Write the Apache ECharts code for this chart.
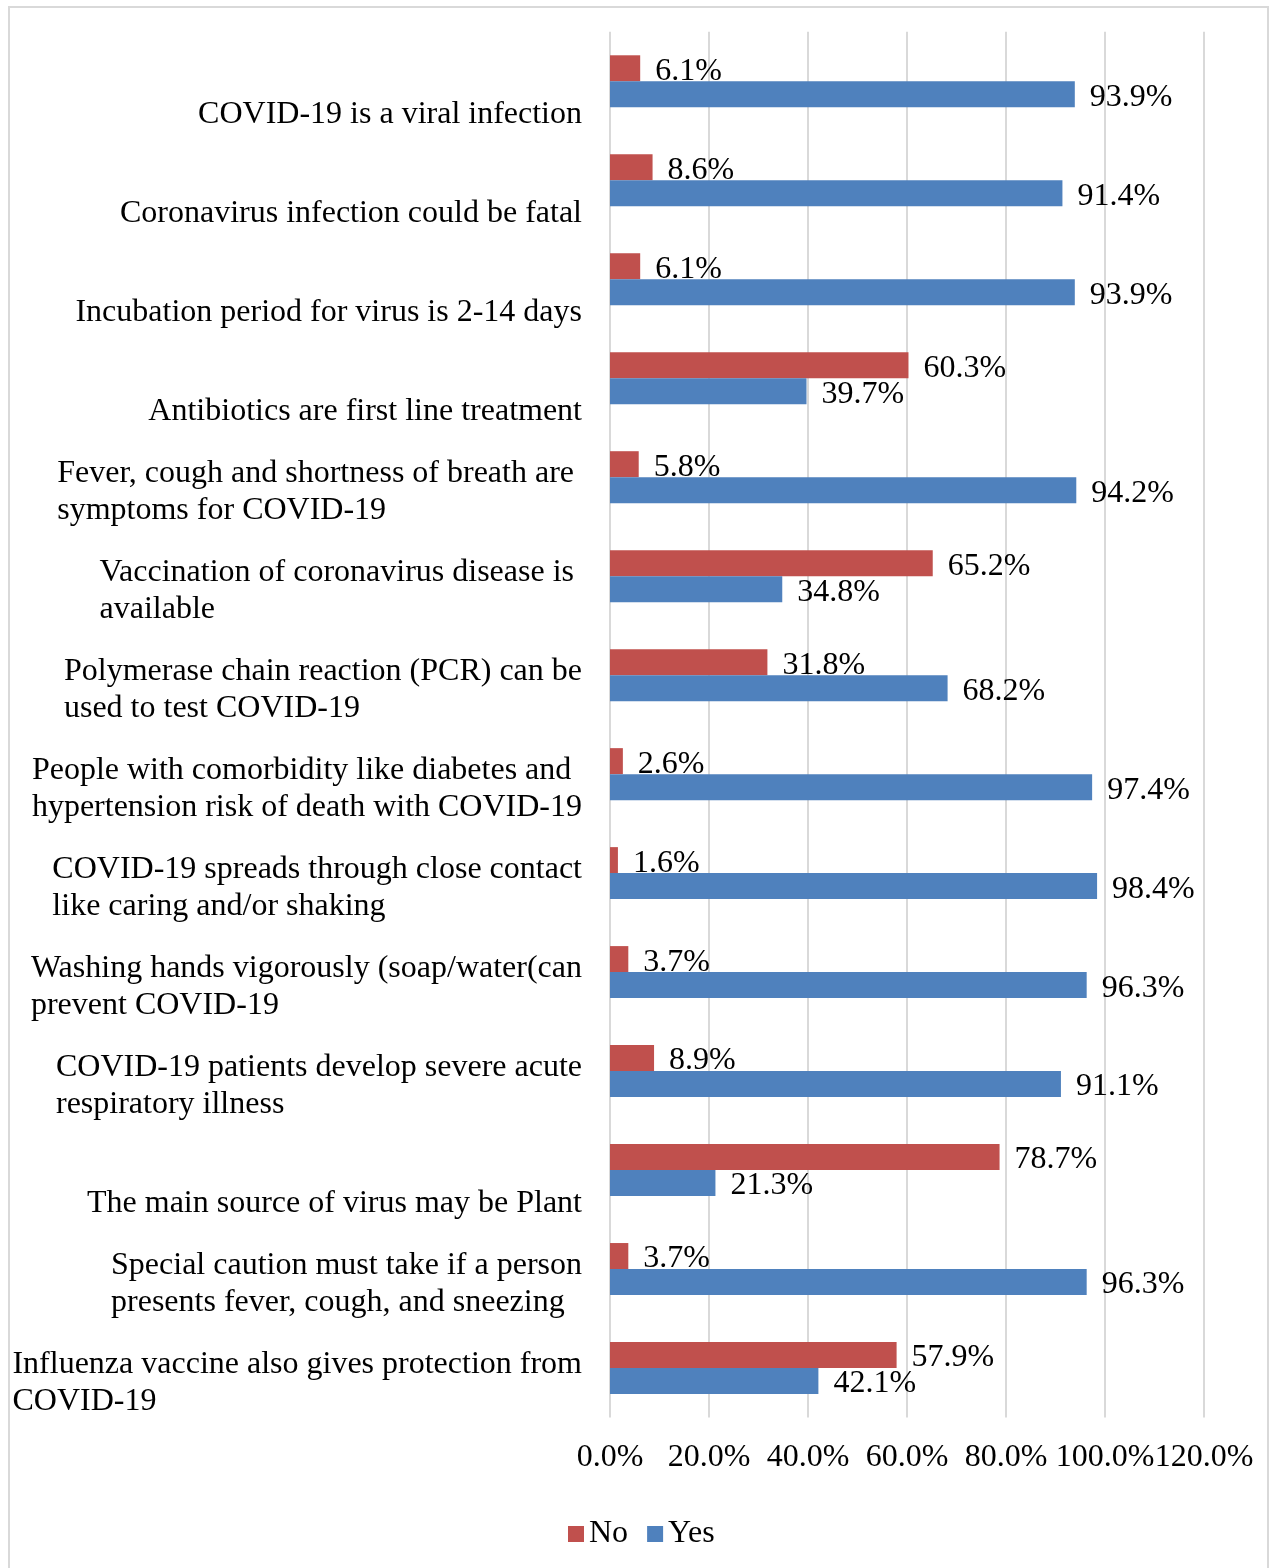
<!DOCTYPE html>
<html>
<head>
<meta charset="utf-8">
<script src="https://cdn.jsdelivr.net/npm/echarts@6/dist/echarts.min.js"></script>
<style>
html,body{margin:0;padding:0;background:#fff;}
#chart{width:1274px;height:1568px;}
</style>
</head>
<body>
<div id="chart"></div>
<script>
const categories = [
  "COVID-19 is a viral infection",
  "Coronavirus infection could be fatal",
  "Incubation period for virus is 2-14 days",
  "Antibiotics are first line treatment",
  "Fever, cough and shortness of breath are \nsymptoms for COVID-19",
  "Vaccination of coronavirus disease is \navailable",
  "Polymerase chain reaction (PCR) can be\nused to test COVID-19",
  "People with comorbidity like diabetes and\nhypertension risk of death with COVID-19",
  "COVID-19 spreads through close contact\nlike caring and/or shaking",
  "Washing hands vigorously (soap/water(can\nprevent COVID-19",
  "COVID-19 patients develop severe acute\nrespiratory illness",
  "The main source of virus may be Plant",
  "Special caution must take if a person\npresents fever, cough, and sneezing",
  "Influenza vaccine also gives protection from\nCOVID-19"
];
const noValues  = [6.1, 8.6, 6.1, 60.3, 5.8, 65.2, 31.8, 2.6, 1.6, 3.7, 8.9, 78.7, 3.7, 57.9];
const yesValues = [93.9, 91.4, 93.9, 39.7, 94.2, 34.8, 68.2, 97.4, 98.4, 96.3, 91.1, 21.3, 96.3, 42.1];
const xTicks = [0, 20, 40, 60, 80, 100, 120];

const FONT = '"Liberation Serif", "Times New Roman", serif';
const chart = echarts.init(document.getElementById('chart'));
const valueLabel = {
  show: true, position: 'right', distance: 15, offset: [0, 3],
  fontFamily: FONT, fontSize: 32, color: '#000',
  formatter: p => p.value.toFixed(1) + '%'
};
chart.setOption({
  animation: false,
  backgroundColor: '#fff',
  graphic: [{
    type: 'rect', shape: {x: 9, y: 7, width: 1259, height: 1620},
    style: {fill: 'none', stroke: '#d9d9d9', lineWidth: 2}, silent: true
  }],
  grid: {left: 610, right: 70, top: 31.8, bottom: 150.5, containLabel: false},
  legend: {
    data: ['No', 'Yes'], left: 563, top: 1513, icon: 'rect',
    itemWidth: 16, itemHeight: 16, itemGap: 19,
    textStyle: {fontFamily: FONT, fontSize: 32, color: '#000', lineHeight: 32}
  },
  xAxis: {
    type: 'value', min: xTicks[0], max: xTicks[xTicks.length - 1], interval: 20,
    axisLine: {show: false}, axisTick: {show: false},
    splitLine: {show: true, lineStyle: {color: '#d9d9d9', width: 2}},
    axisLabel: {
      margin: 24, fontFamily: FONT, fontSize: 32, color: '#000',
      formatter: v => v.toFixed(1) + '%'
    }
  },
  yAxis: {
    type: 'category', data: categories, inverse: true,
    axisLine: {show: false}, axisTick: {show: false},
    axisLabel: {
      interval: 0, showMinLabel: true, showMaxLabel: true, hideOverlap: false,
      margin: 28, align: 'right', padding: [30, 0, 0, 0],
      fontFamily: FONT, fontSize: 32, color: '#000', lineHeight: 36.5,
      formatter: v => {
        let lines = v.split('\n');
        if (lines.length === 1) lines = [' ', lines[0]];
        return lines.map(l => '{a|' + l + '}').join('\n');
      },
      rich: {a: {align: 'left', fontFamily: FONT, fontSize: 32, color: '#000', lineHeight: 36.5}}
    }
  },
  series: [
    {name: 'No', type: 'bar', data: noValues, barWidth: 26, barGap: '0%',
     itemStyle: {color: '#C0504D'}, label: valueLabel},
    {name: 'Yes', type: 'bar', data: yesValues, barWidth: 26, barGap: '0%',
     itemStyle: {color: '#4F81BD'}, label: valueLabel}
  ]
});
</script>
</body>
</html>
